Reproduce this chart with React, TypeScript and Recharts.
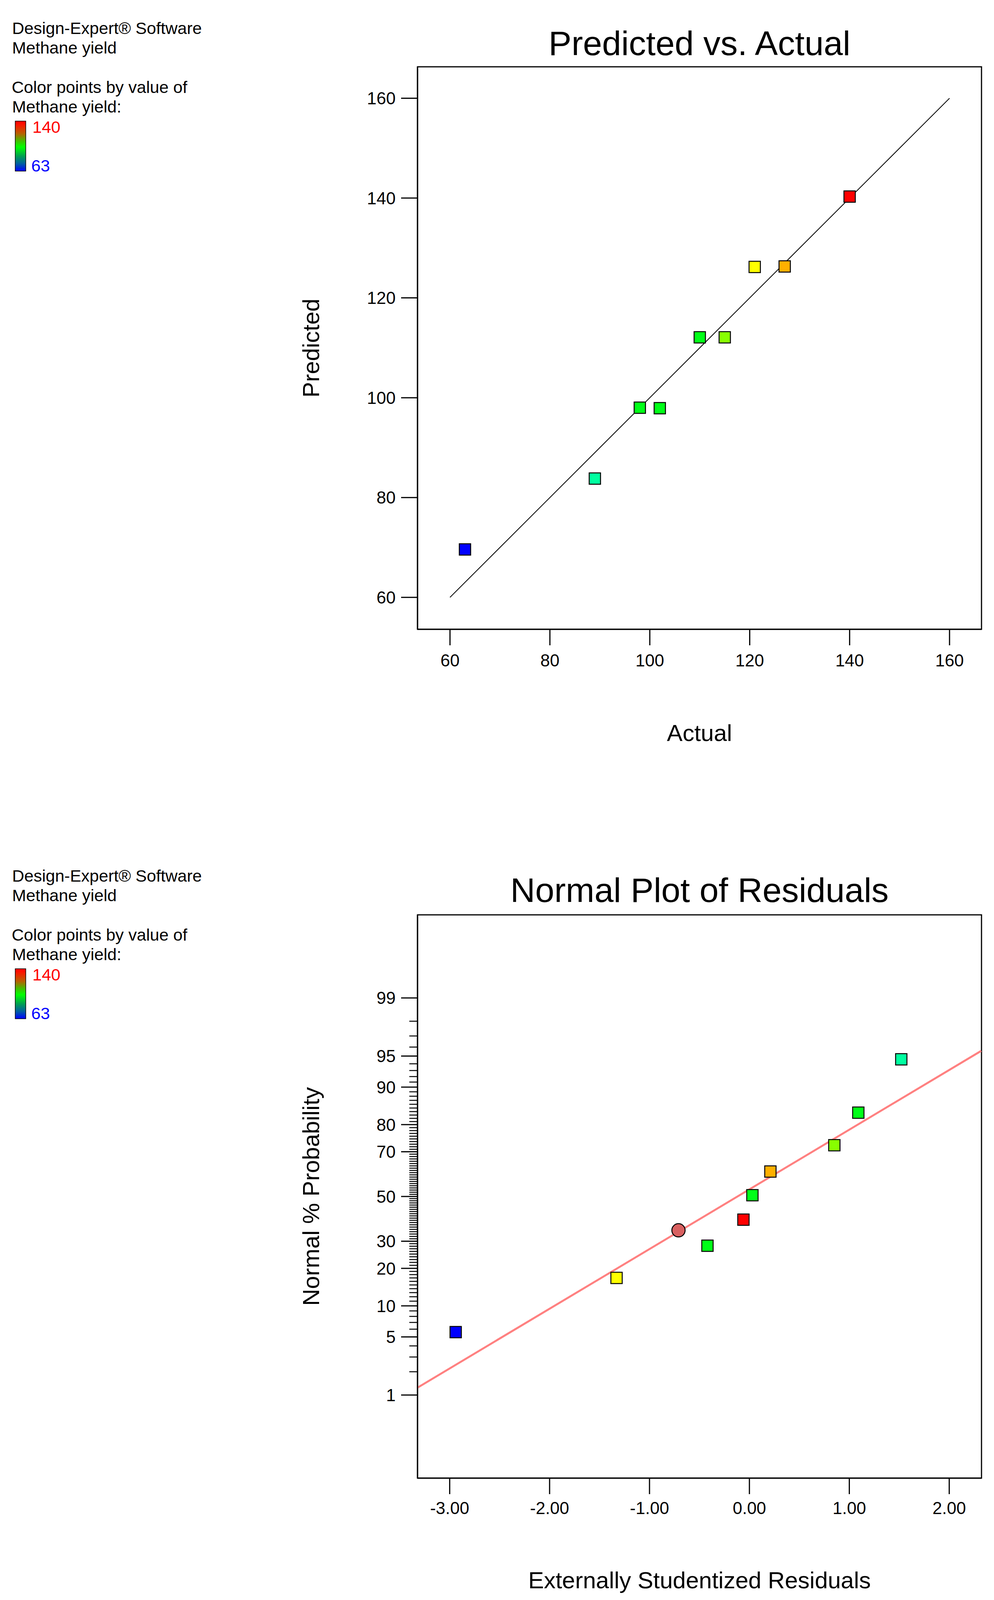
import React from 'react'
import { ScatterChart, Scatter, XAxis, YAxis, ReferenceLine, ReferenceArea } from 'recharts'

const FONT = '"Liberation Sans", Arial, Helvetica, sans-serif'

// Predicted vs. Actual
const actual = [63, 89, 98, 102, 110, 115, 121, 127, 140]
const predicted = [69.6, 83.8, 98.0, 97.9, 112.1, 112.1, 126.2, 126.3, 140.3]
const pvaColors = ['#0000ff', '#00ffa0', '#00ff18', '#00ff18', '#00ff18', '#88ff00', '#ffff00', '#ffb000', '#ff0000']
const pvaTicks = [60, 80, 100, 120, 140, 160]
const diagonal = [60, 160]

// Normal plot of residuals
const residuals = [-2.94, -1.33, -0.71, -0.42, -0.06, 0.03, 0.21, 0.85, 1.09, 1.52]
const probability = [5.6, 17.0, 34.6, 28.2, 39.3, 50.6, 61.5, 72.6, 83.7, 94.6]
const residColors = ['#0000ff', '#ffff00', '#d86060', '#00ff18', '#ff0000', '#00ff18', '#ffb000', '#88ff00', '#00ff18', '#00ffa0']
const residShapes = ['square', 'square', 'circle', 'square', 'square', 'square', 'square', 'square', 'square', 'square']
const residTicks = [-3, -2, -1, 0, 1, 2]
const probLabels = [1, 5, 10, 20, 30, 50, 70, 80, 90, 95, 99]
const probMinor = Array.from({ length: 99 }, (_, i) => i + 1)
const fitResid = [-3.32, 2.32]
const fitProb = [1.26, 95.6]

// inverse of the normal cdf (p as fraction) - used for the probability axis
function probit(p: number): number {
  const a = [-3.969683028665376e1, 2.209460984245205e2, -2.759285104469687e2, 1.38357751867269e2, -3.066479806614716e1, 2.506628277459239]
  const b = [-5.447609879822406e1, 1.615858368580409e2, -1.556989798598866e2, 6.680131188771972e1, -1.328068155288572e1]
  const c = [-7.784894002430293e-3, -3.223964580411365e-1, -2.400758277161838, -2.549671500386850, 4.374664141464968, 2.938163982698783]
  const d = [7.784695709041462e-3, 3.224671290700398e-1, 2.445134137142996, 3.754408661907416]
  const pl = 0.02425
  if (p < pl) {
    const q = Math.sqrt(-2 * Math.log(p))
    return (((((c[0] * q + c[1]) * q + c[2]) * q + c[3]) * q + c[4]) * q + c[5]) / ((((d[0] * q + d[1]) * q + d[2]) * q + d[3]) * q + 1)
  }
  if (p > 1 - pl) {
    const q = Math.sqrt(-2 * Math.log(1 - p))
    return -(((((c[0] * q + c[1]) * q + c[2]) * q + c[3]) * q + c[4]) * q + c[5]) / ((((d[0] * q + d[1]) * q + d[2]) * q + d[3]) * q + 1)
  }
  const q = p - 0.5
  const r = q * q
  return ((((((a[0] * r + a[1]) * r + a[2]) * r + a[3]) * r + a[4]) * r + a[5]) * q) / (((((b[0] * r + b[1]) * r + b[2]) * r + b[3]) * r + b[4]) * r + 1)
}
const z = (pct: number) => probit(pct / 100)

const pvaData = actual.map((x, i) => ({ x, y: predicted[i], color: pvaColors[i], shape: 'square' }))
const residData = residuals.map((x, i) => ({ x, y: z(probability[i]), color: residColors[i], shape: residShapes[i] }))
const probTicks = probMinor.map(z)
const tickPct = new Map(probMinor.map(p => [z(p).toFixed(6), p]))

const Marker = (props: any) => {
  const { cx, cy, payload } = props
  if (cx == null || cy == null) return <g />
  if (payload.shape === 'circle') {
    return <circle cx={cx} cy={cy} r={17} fill={payload.color} stroke="#000" strokeWidth={2.5} />
  }
  return <rect x={cx - 14.5} y={cy - 14.5} width={29} height={29} fill={payload.color} stroke="#000" strokeWidth={2.5} />
}

const ProbTick = (props: any) => {
  const { x, y, payload } = props
  const pct = tickPct.get(Number(payload.value).toFixed(6))
  const major = pct != null && probLabels.includes(pct)
  return (
    <g>
      <line x1={x - (major ? 42 : 21)} x2={x} y1={y} y2={y} stroke="#000" strokeWidth={major ? 3 : 2.5} />
      {major && (
        <text x={x - 56} y={y} dy="0.355em" textAnchor="end" fontSize={44} fontFamily={FONT} fill="#000">{pct}</text>
      )}
    </g>
  )
}

const tickStyle = { fill: '#000', fontSize: 44, fontFamily: FONT }

function SideNote({ top }: { top: number }) {
  return (
    <g transform={`translate(0, ${top})`} fontFamily={FONT} fill="#000">
      <text x={31} y={87} fontSize={43}>Design-Expert® Software</text>
      <text x={31} y={137} fontSize={43}>Methane yield</text>
      <text x={30} y={238} fontSize={43}>Color points by value of</text>
      <text x={31} y={288} fontSize={43}>Methane yield:</text>
      <rect x={39} y={310} width={27} height={128} fill="url(#yieldScale)" stroke="#000" strokeWidth={1.5} />
      <text x={83} y={340} fontSize={43} fill="#ff0000">140</text>
      <text x={80} y={439} fontSize={43} fill="#0000ff">63</text>
    </g>
  )
}

export default function App() {
  return (
    <div style={{ position: 'absolute', left: 0, top: 0, width: 2545, height: 4111, background: '#fff' }}>
      <svg width={2545} height={4111} style={{ position: 'absolute', left: 0, top: 0 }}>
        <defs>
          <linearGradient id="yieldScale" x1="0" y1="0" x2="0" y2="1">
            <stop offset="0" stopColor="#ff0000" />
            <stop offset="0.06" stopColor="#ff1000" />
            <stop offset="0.25" stopColor="#b86000" />
            <stop offset="0.4" stopColor="#40c000" />
            <stop offset="0.52" stopColor="#00ff00" />
            <stop offset="0.7" stopColor="#00a050" />
            <stop offset="0.85" stopColor="#0060a0" />
            <stop offset="1" stopColor="#0000ff" />
          </linearGradient>
        </defs>
        <SideNote top={0} />
        <SideNote top={2170} />
        <g fontFamily={FONT} fill="#000" textAnchor="middle">
          <text x={1791} y={141} fontSize={88}>Predicted vs. Actual</text>
          <text x={1791} y={1897} fontSize={60}>Actual</text>
          <text transform="translate(817, 891) rotate(-90)" fontSize={60}>Predicted</text>
          <text x={1791} y={2309} fontSize={88}>Normal Plot of Residuals</text>
          <text x={1791} y={4066} fontSize={60}>Externally Studentized Residuals</text>
          <text transform="translate(817, 3063) rotate(-90)" fontSize={60}>Normal % Probability</text>
        </g>
      </svg>

      <div style={{ position: 'absolute', left: 0, top: 0 }}>
        <ScatterChart width={2545} height={2000} margin={{ top: 171, right: 32, bottom: 289, left: 869 }}>
          <XAxis
            type="number" dataKey="x" domain={[53.5, 166.4]} ticks={pvaTicks} interval={0}
            height={100} tickSize={41} tickMargin={23} tick={tickStyle}
            axisLine={{ stroke: '#000', strokeWidth: 3 }} tickLine={{ stroke: '#000', strokeWidth: 3 }}
          />
          <YAxis
            type="number" dataKey="y" domain={[53.6, 166.3]} ticks={pvaTicks} interval={0}
            width={200} tickSize={42} tickMargin={14} tick={tickStyle}
            axisLine={{ stroke: '#000', strokeWidth: 3 }} tickLine={{ stroke: '#000', strokeWidth: 3 }}
          />
          <ReferenceArea x1={53.5} x2={166.4} y1={53.6} y2={166.3} fill="none" fillOpacity={0} stroke="#000" strokeWidth={3} />
          <Scatter data={pvaData} shape={Marker} isAnimationActive={false} />
          <ReferenceLine
            segment={[{ x: diagonal[0], y: diagonal[0] }, { x: diagonal[1], y: diagonal[1] }]}
            stroke="#000" strokeWidth={2}
          />
        </ScatterChart>
      </div>

      <div style={{ position: 'absolute', left: 0, top: 2171 }}>
        <ScatterChart width={2545} height={2000} margin={{ top: 171, right: 32, bottom: 287, left: 869 }}>
          <XAxis
            type="number" dataKey="x" domain={[-3.322, 2.323]} ticks={residTicks} interval={0}
            height={100} tickSize={41} tickMargin={20} tick={tickStyle}
            tickFormatter={(v: number) => v.toFixed(2)}
            axisLine={{ stroke: '#000', strokeWidth: 3 }} tickLine={{ stroke: '#000', strokeWidth: 3 }}
          />
          <YAxis
            type="number" dataKey="y" domain={[-3.3, 3.3]} ticks={probTicks} interval={0}
            width={200} tickSize={0} tickMargin={0} tick={<ProbTick />} tickLine={false}
            axisLine={{ stroke: '#000', strokeWidth: 3 }}
          />
          <ReferenceArea x1={-3.322} x2={2.323} y1={-3.3} y2={3.3} fill="none" fillOpacity={0} stroke="#000" strokeWidth={3} />
          <ReferenceLine
            segment={[{ x: fitResid[0], y: z(fitProb[0]) }, { x: fitResid[1], y: z(fitProb[1]) }]}
            stroke="#ff8080" strokeWidth={5}
          />
          <Scatter data={residData} shape={Marker} isAnimationActive={false} />
        </ScatterChart>
      </div>
    </div>
  )
}
